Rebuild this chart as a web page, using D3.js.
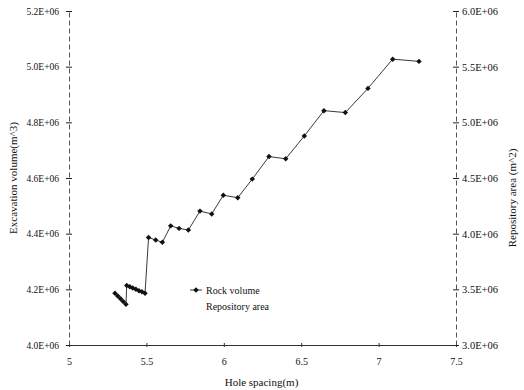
<!DOCTYPE html>
<html>
<head>
<meta charset="utf-8">
<script src="https://cdn.jsdelivr.net/npm/d3@7"></script>
<style>
  body { margin: 0; background: #fff; }
  svg { display: block; font-family: "Liberation Serif", "DejaVu Serif", serif; }
</style>
</head>
<body>
<svg id="chart" width="524" height="390"></svg>
<script>
// Hole spacing (m) and excavated rock volume (m^3)
const holeSpacing = [
  5.297, 5.315, 5.333, 5.350, 5.368,
  5.373, 5.393, 5.412, 5.432, 5.452, 5.471, 5.491,
  5.514, 5.560, 5.603, 5.657, 5.711, 5.771, 5.846, 5.922, 5.997,
  6.090, 6.184, 6.292, 6.400, 6.520, 6.647, 6.785, 6.931, 7.091, 7.261
];
const rockVolume = [
  4.186e6, 4.176e6, 4.166e6, 4.156e6, 4.146e6,
  4.214e6, 4.209e6, 4.205e6, 4.200e6, 4.195e6, 4.191e6, 4.186e6,
  4.386e6, 4.377e6, 4.369e6, 4.428e6, 4.419e6, 4.413e6, 4.481e6, 4.471e6, 4.538e6,
  4.529e6, 4.596e6, 4.677e6, 4.669e6, 4.751e6, 4.842e6, 4.835e6, 4.922e6, 5.027e6, 5.019e6
];

const xTicks = [5, 5.5, 6, 6.5, 7, 7.5];
const leftTicks = [4.0e6, 4.2e6, 4.4e6, 4.6e6, 4.8e6, 5.0e6, 5.2e6];
const rightTicks = [3.0e6, 3.5e6, 4.0e6, 4.5e6, 5.0e6, 5.5e6, 6.0e6];
const legendNames = ["Rock volume", "Repository area"];
const xTitle = "Hole spacing(m)";
const leftTitle = "Excavation volume(m^3)";
const rightTitle = "Repository area (m^2)";

const svg = d3.select("#chart");
const plotLeft = 69, plotRight = 456, plotTop = 11, plotBottom = 345;
const serif = "Liberation Serif, serif";

const x = d3.scaleLinear().domain([5, 7.5]).range([plotLeft, plotRight]);
const yL = d3.scaleLinear().domain([4.0e6, 5.2e6]).range([plotBottom, plotTop]);
const yR = d3.scaleLinear().domain([3.0e6, 6.0e6]).range([plotBottom, plotTop]);

const sci = v => (v / 1e6).toFixed(1) + "E+06";

// bottom axis
const gx = svg.append("g")
  .attr("transform", `translate(0,${plotBottom})`)
  .attr("font-family", serif)
  .call(d3.axisBottom(x).tickValues(xTicks).tickFormat(d => String(d))
    .tickSizeInner(2).tickSizeOuter(0).tickPadding(11));
gx.selectAll(".tick line").attr("y1", -2).attr("stroke", "#333");
gx.select(".domain").attr("stroke", "#333").attr("stroke-width", 1);
gx.selectAll("text").attr("font-size", 10).attr("fill", "#111").attr("font-family", serif);

// left axis
const gl = svg.append("g")
  .attr("transform", `translate(${plotLeft},0)`)
  .attr("font-family", serif)
  .call(d3.axisLeft(yL).tickValues(leftTicks).tickFormat(sci)
    .tickSizeInner(3).tickSizeOuter(0).tickPadding(7));
gl.selectAll(".tick line").attr("x1", 3).attr("stroke", "#222");
gl.select(".domain").attr("stroke", "#555").attr("stroke-dasharray", "5,3");
gl.selectAll("text").attr("font-size", 9.5).attr("fill", "#111").attr("font-family", serif);

// right axis
const gr = svg.append("g")
  .attr("transform", `translate(${plotRight},0)`)
  .attr("font-family", serif)
  .call(d3.axisRight(yR).tickValues(rightTicks).tickFormat(sci)
    .tickSizeInner(3).tickSizeOuter(0).tickPadding(3));
gr.selectAll(".tick line").attr("x1", -3).attr("stroke", "#222");
gr.select(".domain").attr("stroke", "#555").attr("stroke-dasharray", "5,3");
gr.selectAll("text").attr("font-size", 10.5).attr("fill", "#111").attr("font-family", serif);

// axis titles
svg.append("text")
  .attr("x", (plotLeft + plotRight) / 2 - 1).attr("y", 386)
  .attr("text-anchor", "middle").attr("font-size", 11).attr("fill", "#111")
  .text(xTitle);
svg.append("text")
  .attr("transform", `translate(17,${(plotTop + plotBottom) / 2}) rotate(-90)`)
  .attr("text-anchor", "middle").attr("font-size", 11).attr("fill", "#111")
  .text(leftTitle);
svg.append("text")
  .attr("transform", `translate(516,198) rotate(-90)`)
  .attr("text-anchor", "middle").attr("font-size", 11).attr("fill", "#111")
  .text(rightTitle);

// rock volume series
const pts = holeSpacing.map((h, i) => [h, rockVolume[i]]);
svg.append("path")
  .datum(pts)
  .attr("fill", "none").attr("stroke", "#222").attr("stroke-width", 0.9)
  .attr("d", d3.line().x(d => x(d[0])).y(d => yL(d[1])));

// markers: small squares turned 45 degrees
const marker = d3.symbol().type(d3.symbolSquare).size(15);
svg.append("g").selectAll("path")
  .data(pts).join("path")
  .attr("transform", d => `translate(${x(d[0])},${yL(d[1])}) rotate(45)`)
  .attr("d", marker).attr("fill", "#111");

// legend
const lg = svg.append("g").attr("transform", "translate(190,290)");
lg.append("line").attr("x1", 0).attr("x2", 12).attr("y1", 0).attr("y2", 0)
  .attr("stroke", "#222").attr("stroke-width", 0.9);
lg.append("path").attr("transform", "translate(6,0) rotate(45)").attr("d", marker).attr("fill", "#111");
lg.selectAll("text.lbl").data(legendNames).join("text")
  .attr("class", "lbl")
  .attr("x", 16).attr("y", (d, i) => i * 16)
  .attr("dy", "0.35em").attr("font-size", 10).attr("fill", "#111")
  .text(d => d);
</script>
</body>
</html>
